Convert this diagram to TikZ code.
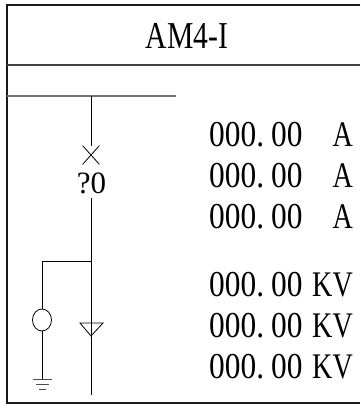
\documentclass[tikz,border=0pt]{standalone}
\usepackage{fontspec}
\usetikzlibrary{shapes.geometric,shapes.misc}
\newfontfamily\numfont[FakeStretch=0.86]{Liberation Serif}
\newfontfamily\narrowfont[FakeStretch=0.78]{Liberation Serif}
\newfontfamily\plainfont{Liberation Serif}
\tikzset{
  frameline/.style={line width=1.6pt, black!90},
  sepline/.style={line width=1.4pt, black!75},
  busline/.style={line width=1.2pt, black!55},
  wire/.style={line width=0.8pt},
  val/.style={anchor=base west, inner sep=0pt, font=\numfont\fontsize{36.5}{36.5}\selectfont},
  unit/.style={anchor=base east, inner sep=0pt, font=\narrowfont\fontsize{36}{36}\selectfont},
}
\begin{document}
\begin{tikzpicture}[x=1pt, y=-1pt]

    \useasboundingbox (0,0) rectangle (360,408);

    % frame
    \coordinate (tl) at (7,5);
    \coordinate (tr) at (360,5);
    \coordinate (bl) at (7,403);
    \coordinate (br) at (360,403);
    \coordinate (hl) at (7,65);
    \coordinate (hr) at (360,65);

    \path[draw, frameline] (tr) to (tl) to (bl) to (br);
    \path[draw, sepline] (hl) to (hr);

    \node[anchor=base, inner sep=0pt, font=\narrowfont\fontsize{38}{38}\selectfont] (title) at (187,48) {AM4-I};

    % bus and switch
    \coordinate (busl) at (7,96);
    \coordinate (busr) at (176,96);
    \coordinate (b0) at (91,96);

    \path[draw, busline] (busl) to (busr);

    \node[draw, cross out, wire, minimum width=16pt, minimum height=18pt, inner sep=0pt] (qs) at (91,155) {};
    \path[draw, wire] (b0) to (qs.north);

    \node[anchor=base, inner sep=0pt, font=\plainfont\fontsize{31}{31}\selectfont] (qn) at (91.5,193) {?0};

    \coordinate (m0) at (91,198);
    \coordinate (j0) at (91,261);
    \coordinate (m1) at (91,395);

    \path[draw, wire] (m0) to (m1);

    % voltage transformer branch
    \coordinate (j1) at (42,261);
    \node[draw, ellipse, wire, minimum width=19pt, minimum height=22pt, inner sep=0pt] (pt) at (42,320) {};
    \coordinate (g) at (42,379);

    \path[draw, wire] (j0) to (j1) to (pt.north);
    \path[draw, wire] (pt.south) to (g);

    \path[draw, wire, black!70] (33,379) to (52,379);
    \path[draw, wire, black!70] (36,384) to (49,384);
    \path[draw, wire, black!70] (39,389) to (46,389);

    % arrester
    \path[draw, wire] (80,323) to (103,323) to (91,336) to cycle;

    % currents
    \node[val] (a0) at (209,146) {000.\kern7pt 00};
    \node[val] (a1) at (209,187) {000.\kern7pt 00};
    \node[val] (a2) at (209,228) {000.\kern7pt 00};

    \node[unit] (ua0) at (353,146) {A};
    \node[unit] (ua1) at (353,187) {A};
    \node[unit] (ua2) at (353,228) {A};

    % voltages
    \node[val] (v0) at (209,296) {000.\kern7pt 00};
    \node[val] (v1) at (209,337) {000.\kern7pt 00};
    \node[val] (v2) at (209,378) {000.\kern7pt 00};

    \node[unit] (uv0) at (353,296) {KV};
    \node[unit] (uv1) at (353,337) {KV};
    \node[unit] (uv2) at (353,378) {KV};

  \end{tikzpicture}
\end{document}
